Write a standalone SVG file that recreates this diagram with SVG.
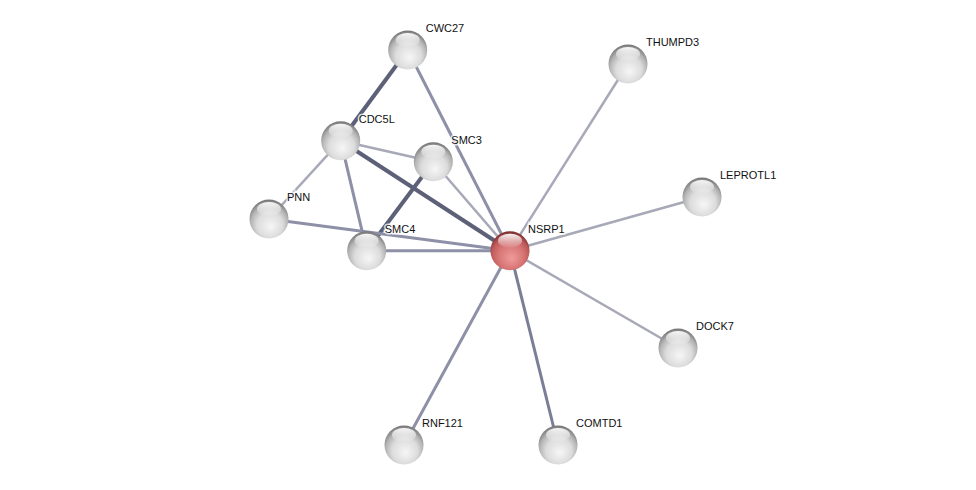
<svg xmlns="http://www.w3.org/2000/svg" width="976" height="490" viewBox="0 0 976 490">
<defs>
<radialGradient id="g" cx="0.5" cy="0.62" r="0.6" fx="0.55" fy="0.7">
<stop offset="0" stop-color="#f6f6f6"/>
<stop offset="0.55" stop-color="#dcdcdc"/>
<stop offset="0.8" stop-color="#b4b4b4"/>
<stop offset="1" stop-color="#7a7a7a"/>
</radialGradient>
<radialGradient id="r" cx="0.5" cy="0.62" r="0.6" fx="0.55" fy="0.7">
<stop offset="0" stop-color="#f09a9a"/>
<stop offset="0.55" stop-color="#d77474"/>
<stop offset="0.8" stop-color="#bf5a5a"/>
<stop offset="1" stop-color="#803030"/>
</radialGradient>
<linearGradient id="h" x1="0" y1="0" x2="0" y2="1">
<stop offset="0" stop-color="#fff" stop-opacity="0.95"/>
<stop offset="1" stop-color="#fff" stop-opacity="0.05"/>
</linearGradient>
<g id="shine"><ellipse cx="0" cy="-10" rx="12" ry="7" fill="url(#h)"/></g>
</defs>
<style>
.e{fill:none;stroke-linecap:butt}
.l1{stroke:#a8a9b8;stroke-width:2.5}
.l2{stroke:#8d90a6;stroke-width:3}
.l25{stroke:#7a7e96;stroke-width:3}
.l3{stroke:#5d6178;stroke-width:4}
text{font-family:"Liberation Sans",Arial,sans-serif;font-size:11px;fill:#111;stroke:#fff;stroke-width:3;stroke-opacity:0.8;paint-order:stroke}
</style>
<rect width="976" height="490" fill="#fff"/>
<g id="edges">
<line class="e l3" x1="407.7" y1="50" x2="340.7" y2="140.7"/>
<line class="e l2" x1="407.7" y1="50" x2="510" y2="250.7"/>
<line class="e l1" x1="628" y1="64" x2="510" y2="250.7"/>
<line class="e l1" x1="340.7" y1="140.7" x2="433.3" y2="161.7"/>
<line class="e l3" x1="340.7" y1="140.7" x2="510" y2="250.7"/>
<line class="e l1" x1="340.7" y1="140.7" x2="269" y2="219"/>
<line class="e l2" x1="340.7" y1="140.7" x2="366.7" y2="250.7"/>
<line class="e l3" x1="433.3" y1="161.7" x2="366.7" y2="250.7"/>
<line class="e l1" x1="433.3" y1="161.7" x2="510" y2="250.7"/>
<line class="e l2" x1="269" y1="219" x2="510" y2="250.7"/>
<line class="e l2" x1="366.7" y1="250.7" x2="510" y2="250.7"/>
<line class="e l1" x1="702" y1="197" x2="510" y2="250.7"/>
<line class="e l1" x1="678" y1="348" x2="510" y2="250.7"/>
<line class="e l2" x1="404" y1="445" x2="510" y2="250.7"/>
<line class="e l25" x1="558" y1="445" x2="510" y2="250.7"/>
</g>
<g id="CWC27" transform="translate(407.7,50)"><circle r="19.5" fill="url(#g)"/><use href="#shine"/><text x="18" y="-18">CWC27</text></g>
<g id="THUMPD3" transform="translate(628,64)"><circle r="19.5" fill="url(#g)"/><use href="#shine"/><text x="18" y="-18">THUMPD3</text></g>
<g id="CDC5L" transform="translate(340.7,140.7)"><circle r="19.5" fill="url(#g)"/><use href="#shine"/><text x="18" y="-18">CDC5L</text></g>
<g id="SMC3" transform="translate(433.3,161.7)"><circle r="19.5" fill="url(#g)"/><use href="#shine"/><text x="18" y="-18">SMC3</text></g>
<g id="PNN" transform="translate(269,219)"><circle r="19.5" fill="url(#g)"/><use href="#shine"/><text x="18" y="-18">PNN</text></g>
<g id="SMC4" transform="translate(366.7,250.7)"><circle r="19.5" fill="url(#g)"/><use href="#shine"/><text x="18" y="-18">SMC4</text></g>
<g id="NSRP1" transform="translate(510,250.7)"><circle r="19.5" fill="url(#r)"/><use href="#shine"/><text x="18" y="-18">NSRP1</text></g>
<g id="LEPROTL1" transform="translate(702,197)"><circle r="19.5" fill="url(#g)"/><use href="#shine"/><text x="18" y="-18">LEPROTL1</text></g>
<g id="DOCK7" transform="translate(678,348)"><circle r="19.5" fill="url(#g)"/><use href="#shine"/><text x="18" y="-18">DOCK7</text></g>
<g id="RNF121" transform="translate(404,445)"><circle r="19.5" fill="url(#g)"/><use href="#shine"/><text x="18" y="-18">RNF121</text></g>
<g id="COMTD1" transform="translate(558,445)"><circle r="19.5" fill="url(#g)"/><use href="#shine"/><text x="18" y="-18">COMTD1</text></g>
</svg>
